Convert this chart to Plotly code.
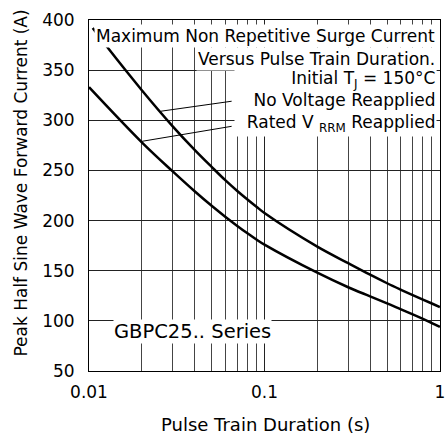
import plotly.graph_objects as go

# Surge current curves
no_voltage_x = [0.0105, 0.0127, 0.02, 0.03, 0.04, 0.05, 0.06, 0.07, 0.08, 0.09,
                0.1, 0.2, 0.3, 0.4, 0.5, 0.6, 0.7, 0.8, 0.9, 1.0]
no_voltage_y = [392, 373, 330, 294, 270.5, 253.5, 240, 229.5, 221, 213.8,
                207.5, 174, 157.5, 146, 137.5, 131, 125.7, 121.2, 117.3, 113.8]

rated_x = [0.01, 0.02, 0.03, 0.04, 0.05, 0.06, 0.07, 0.08, 0.09,
           0.1, 0.2, 0.3, 0.4, 0.5, 0.6, 0.7, 0.8, 0.9, 1.0]
rated_y = [333, 278, 249, 229.2, 214.7, 203.6, 194.7, 187.3, 181.1,
           176, 148, 133.5, 124.5, 117.5, 111.5, 106.5, 102, 97.8, 94]

# leader lines from the labels to the curves
leader_no_voltage_x = [0.0256, 0.065]
leader_no_voltage_y = [309, 319]
leader_rated_x = [0.02, 0.065]
leader_rated_y = [279, 294]

x_tickvals = [0.01, 0.1, 1]
x_ticktext = ["0.01", "0.1", "1"]

FONT = "DejaVu Sans"

fig = go.Figure()
for xs, ys in [(no_voltage_x, no_voltage_y), (rated_x, rated_y)]:
    fig.add_trace(go.Scatter(x=xs, y=ys, mode="lines",
                             line=dict(color="black", width=2.5, shape="spline", smoothing=1),
                             showlegend=False, hoverinfo="skip"))
for xs, ys in [(leader_no_voltage_x, leader_no_voltage_y), (leader_rated_x, leader_rated_y)]:
    fig.add_trace(go.Scatter(x=xs, y=ys, mode="lines",
                             line=dict(color="black", width=1),
                             showlegend=False, hoverinfo="skip"))

fig.update_xaxes(
    type="log", range=[-2, 0.0005], automargin=False,
    tickvals=x_tickvals, ticktext=x_ticktext, ticklabeloverflow="allow",
    showgrid=True, gridcolor="#222", gridwidth=1,
    minor=dict(dtick="D1", showgrid=True, gridcolor="#444", gridwidth=1),
    showline=True, linecolor="black", linewidth=1, mirror=True,
    ticks="", ticklabelstandoff=6,
    tickfont=dict(family=FONT, size=17, color="black"),
)
fig.update_yaxes(
    range=[50, 400], dtick=50, automargin=False,
    showgrid=True, gridcolor="#222", gridwidth=1, zeroline=False,
    showline=True, linecolor="black", linewidth=1, mirror=True,
    ticks="", ticklabelstandoff=10,
    tickfont=dict(family=FONT, size=17, color="black"),
)

box = dict(xref="paper", yref="paper", showarrow=False, bgcolor="white",
           font=dict(family=FONT, size=17, color="black"))
fig.add_annotation(text="Maximum Non Repetitive Surge Current", x=1, xanchor="right",
                   xshift=-3, y=0.9544, yanchor="middle", borderpad=1, **box)
fig.add_annotation(text="Versus Pulse Train Duration.", x=1, xanchor="right",
                   xshift=-3, y=0.8903, yanchor="middle", borderpad=1, **box)
fig.add_annotation(
    text="Initial T<sub>J</sub> = 150°C<br>No Voltage Reapplied<br>"
         "&nbsp;&nbsp;Rated V <sub>RRM</sub> Reapplied",
    align="right", x=1, xanchor="right", xshift=-3, y=0.7664, yanchor="middle",
    borderpad=1, **box)
series = dict(box)
series["font"] = dict(family=FONT, size=19.5, color="black")
fig.add_annotation(text="GBPC25.. Series", x=0.2954, xanchor="center",
                   y=0.1125, yanchor="middle", borderpad=0, **series)

# axis titles placed as annotations to match the original offsets
fig.add_annotation(text="Pulse Train Duration (s)", xref="paper", yref="paper",
                   x=0.503, y=-0.151, xanchor="center", yanchor="middle", showarrow=False,
                   font=dict(family=FONT, size=18, color="black"))
fig.add_annotation(text="Peak Half Sine Wave Forward Current (A)", xref="paper", yref="paper",
                   x=-0.1937, y=0.534, xanchor="center", yanchor="middle",
                   textangle=-90, showarrow=False,
                   font=dict(family=FONT, size=17, color="black"))

fig.update_layout(
    width=447, height=438,
    margin=dict(l=89, r=7, t=20, b=67),
    paper_bgcolor="white", plot_bgcolor="white",
    font=dict(family=FONT, color="black"),
)

# drop the default 8px body margin so the figure fills the window exactly
fig.write_html("out.html", config={"displayModeBar": False},
               post_script="document.body.style.margin='0';")
